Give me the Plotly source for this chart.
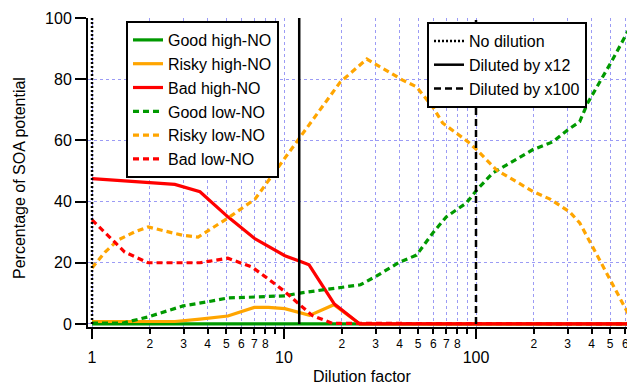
import plotly.graph_objects as go

# ---- data ----
good_high_x = [1, 25, 655]
good_high_y = [0, 0, 0]

risky_high_x = [1, 2.7, 3.65, 5.1, 7.0, 8.3, 10.1, 13.6, 18.2, 24.8, 655]
risky_high_y = [0.8, 0.8, 1.6, 2.6, 5.4, 5.4, 5.0, 2.8, 6.3, 0, 0]

bad_high_x = [1, 2, 2.7, 3.65, 5.1, 7.0, 10.1, 12.1, 13.5, 18.3, 24.8, 655]
bad_high_y = [47.5, 46.3, 45.6, 43.2, 35, 28, 22.3, 20.5, 19.3, 6.5, 0, 0]

good_low_x = [1, 1.45, 1.96, 2.98, 3.97, 5.1, 7.06, 10.1, 12.1, 18, 25, 30, 40, 49,
              60, 70, 89, 101, 122, 198, 251, 300, 347, 380, 500, 655]
good_low_y = [0.3, 0.3, 2.3, 5.9, 7.2, 8.5, 8.8, 9.2, 10.1, 11.5, 12.8, 15.5, 20.2, 22.5,
              30, 35, 39.5, 43.8, 49.3, 57, 59.5, 63.4, 66.1, 72, 85, 98.5]

risky_low_x = [1, 1.17, 1.37, 1.67, 1.96, 2.95, 3.57, 5.1, 7.06, 9.3, 11.8, 19.6, 27, 30.5,
               41.5, 49, 60, 67, 91, 101, 128, 198, 243, 308, 347, 405, 500, 655]
risky_low_y = [18.3, 23.5, 27.5, 30.1, 31.7, 29, 28.4, 34.6, 40.8, 51, 60, 79, 86.6, 84.6,
               79.7, 77.5, 70.6, 65.7, 59.5, 56.9, 50.3, 43.3, 40.8, 36.6, 33, 25.2, 14.4, 0.6]

bad_low_x = [1, 1.48, 1.96, 3.65, 5.1, 6.8, 8, 9.9, 14, 17.8, 655]
bad_low_y = [34, 23.5, 20, 20, 21.5, 18.6, 15.4, 11, 2.8, 0.2, 0]

dilutions = [1, 12, 100]
dilution_names = ["No dilution", "Diluted by x12", "Diluted by x100"]

minor_ticks = [2, 3, 4, 5, 6, 7, 8, 9, 20, 30, 40, 50, 60, 70, 80, 90, 200, 300, 400, 500, 600]
minor_labels = ["2", "3", "4", "5", "6", "7", "8", "", "2", "3", "4", "5", "6", "7", "8", "",
                "2", "3", "4", "5", "6"]
major_ticks = [1, 10, 100]
major_labels = ["1", "10", "100"]
y_ticks = [0, 20, 40, 60, 80, 100]

GREEN = "#009900"
ORANGE = "#FFA500"
RED = "#FF0000"
FONT = "Liberation Sans, Arial, sans-serif"
DOT = "6px,4px"

# The page body has an 8px default margin, so the figure is sized to fit the window.
OFF = 8
W, H = 635 - OFF, 386 - OFF
L, T, R, B = 88 - OFF, 18 - OFF, 1, 386 - 327
PW, PH = W - L - R, H - T - B


def px(xp):
    return (xp - OFF - L) / PW


def py(yp):
    return 1 - (yp - OFF - T) / PH


fig = go.Figure()

series = [
    ("Good high-NO", good_high_x, good_high_y, GREEN, "solid"),
    ("Risky high-NO", risky_high_x, risky_high_y, ORANGE, "solid"),
    ("Bad high-NO", bad_high_x, bad_high_y, RED, "solid"),
    ("Good low-NO", good_low_x, good_low_y, GREEN, DOT),
    ("Risky low-NO", risky_low_x, risky_low_y, ORANGE, DOT),
    ("Bad low-NO", bad_low_x, bad_low_y, RED, DOT),
]
for name, xs, ys, col, dash in series:
    fig.add_trace(go.Scatter(x=xs, y=ys, mode="lines", name=name,
                             line=dict(color=col, width=3.2, dash=dash),
                             legend="legend"))

vdash = ["2px,2px", "solid", "7px,4px"]
for d, nm, ds in zip(dilutions, dilution_names, vdash):
    fig.add_trace(go.Scatter(x=[d, d], y=[0, 100], mode="lines", name=nm,
                             line=dict(color="black", width=2.5, dash=ds),
                             legend="legend2"))

# dummy trace for the major-tick axis
fig.add_trace(go.Scatter(x=[1], y=[None], xaxis="x2", showlegend=False,
                         hoverinfo="skip", mode="lines"))

xr = [-0.021, 2.823]
fig.update_layout(
    width=W, height=H,
    margin=dict(l=L, r=R, t=T, b=B, pad=0),
    paper_bgcolor="white", plot_bgcolor="white",
    font=dict(family=FONT, color="black"),
    showlegend=True,
    xaxis=dict(type="log", range=xr, tickmode="array",
               tickvals=minor_ticks + major_ticks,
               ticktext=minor_labels + ["", "", ""],
               ticks="outside", ticklen=5, tickwidth=1.5, tickcolor="black",
               tickfont=dict(size=12, family=FONT),
               showline=True, linecolor="black", linewidth=2,
               showgrid=True, gridcolor="#9B9BF5", griddash="dot", gridwidth=1,
               zeroline=False),
    xaxis2=dict(type="log", range=xr, overlaying="x", anchor="y", side="bottom",
                tickmode="array", tickvals=major_ticks, ticktext=major_labels,
                ticks="outside", ticklen=11, tickwidth=1.5, tickcolor="black",
                tickfont=dict(size=16, family=FONT), ticklabelstandoff=5,
                showline=False, showgrid=False, zeroline=False),
    yaxis=dict(range=[-1, 100], tickmode="array", tickvals=y_ticks,
               ticks="outside", ticklen=11, tickwidth=2, tickcolor="black",
               tickfont=dict(size=16, family=FONT),
               showline=True, linecolor="black", linewidth=2,
               showgrid=True, gridcolor="#9B9BF5", griddash="dot", gridwidth=1,
               zeroline=False),
    legend=dict(x=px(126), y=py(21), xanchor="left", yanchor="top",
                bgcolor="white", bordercolor="black", borderwidth=2,
                font=dict(size=16, family=FONT), tracegroupgap=0),
    legend2=dict(x=px(427), y=py(22), xanchor="left", yanchor="top",
                 bgcolor="white", bordercolor="black", borderwidth=2,
                 font=dict(size=16, family=FONT), tracegroupgap=0),
    annotations=[
        dict(text="Dilution factor", x=px(362), y=py(376), xref="paper", yref="paper",
             xanchor="center", yanchor="middle",
             showarrow=False, font=dict(size=16, family=FONT)),
        dict(text="Percentage of SOA potential", x=px(19), y=py(178), xref="paper",
             yref="paper", xanchor="center", yanchor="middle",
             showarrow=False, textangle=-90, font=dict(size=16, family=FONT)),
    ],
)

fig.write_html("out.html")
